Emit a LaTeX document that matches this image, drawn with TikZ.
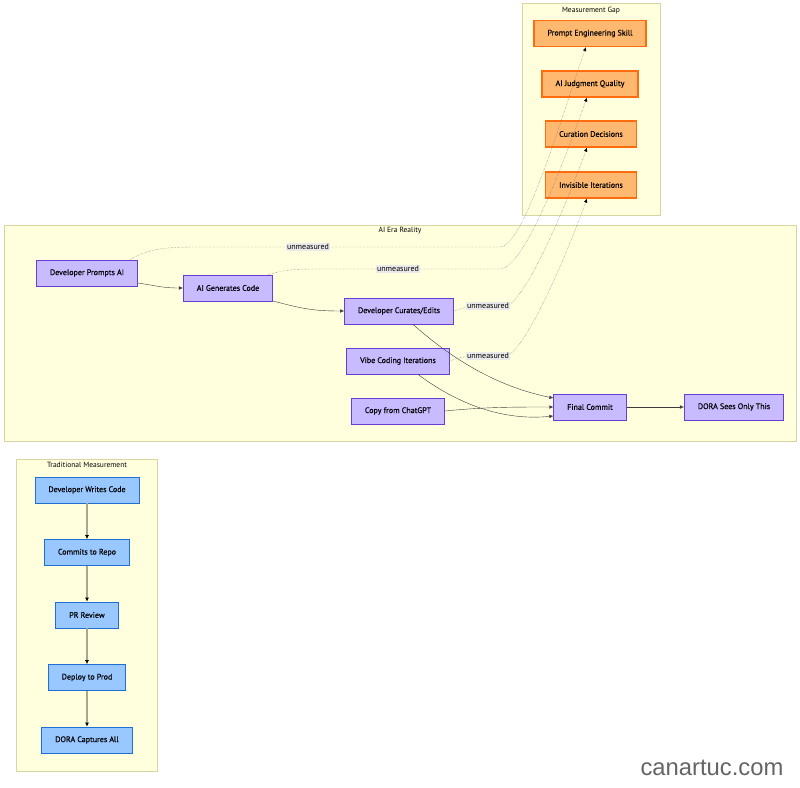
\documentclass[tikz,border=0pt]{standalone}
\usepackage{fontspec}
\setmainfont{PT Sans}
\newfontfamily\nodefont[FakeBold=0.25]{PT Sans}
\newfontfamily\markfont{Liberation Sans}
\usepackage{xcolor}
\usetikzlibrary{chains, positioning, arrows.meta}

\definecolor{clusterfill}{RGB}{255,255,222}
\definecolor{clusterdraw}{RGB}{214,214,160}
\definecolor{aifill}{RGB}{200,187,255}
\definecolor{aidraw}{RGB}{106,61,214}
\definecolor{gapfill}{RGB}{255,184,112}
\definecolor{gapdraw}{RGB}{255,108,16}
\definecolor{tradfill}{RGB}{153,199,255}
\definecolor{traddraw}{RGB}{31,111,214}
\definecolor{edgegray}{RGB}{60,60,60}
\definecolor{dotgray}{RGB}{100,100,100}
\definecolor{tradedge}{RGB}{170,166,148}
\definecolor{lblgray}{RGB}{234,234,234}
\definecolor{markgray}{RGB}{100,100,100}

\begin{document}
\begin{tikzpicture}[
  x = 1pt, y = -1pt,
  font = \nodefont\fontsize{8}{9.6}\selectfont,
  cluster/.style = {draw=clusterdraw, fill=clusterfill, line width=0.8pt},
  ctitle/.style = {font=\rmfamily\fontsize{7.5}{9}\selectfont},
  box/.style = {draw, rectangle, minimum height=26pt, inner xsep=13.5pt, line width=0.8pt},
  aibox/.style = {box, fill=aifill, draw=aidraw},
  gapbox/.style = {box, fill=gapfill, draw=gapdraw, line width=1.2pt},
  tradbox/.style = {box, fill=tradfill, draw=traddraw},
  flow/.style = {draw=edgegray, -{Latex[length=4pt, width=3.5pt]}},
  gapflow/.style = {draw=dotgray, densely dotted, -{Latex[length=4pt, width=3.5pt, color=black]}},
  tradflow/.style = {draw=tradedge, line width=1.5pt, -{Latex[length=4pt, width=4pt, color=black]}},
  lbl/.style = {fill=lblgray, inner sep=1pt, font=\rmfamily\fontsize{8}{9.6}\selectfont}
]
  \useasboundingbox (0,0) rectangle (800,787);

  % subgraphs
  \draw[cluster] (522,3) rectangle (660,215);
  \node[ctitle] (gaptitle) at (591,11) {Measurement Gap};
  \draw[cluster] (4,225) rectangle (796,441);
  \node[ctitle] (aititle) at (400,231) {AI Era Reality};
  \draw[cluster] (16,459) rectangle (157,771);
  \node[ctitle] (tradtitle) at (87,465) {Traditional Measurement};

  % measurement gap
  \node[gapbox] (pes) at (590,33.5) {Prompt Engineering Skill};
  \node[gapbox] (ajq) at (590,84) {AI Judgment Quality};
  \node[gapbox] (cd) at (591,134) {Curation Decisions};
  \node[gapbox] (ii) at (591,185) {Invisible Iterations};

  % AI era
  \node[aibox] (pai) at (87,273) {Developer Prompts AI};
  \node[aibox] (aig) at (228,288) {AI Generates Code};
  \node[aibox] (cur) at (399,311) {Developer Curates/Edits};
  \node[aibox] (vibe) at (398,361) {Vibe Coding Iterations};
  \node[aibox] (copy) at (398,411) {Copy from ChatGPT};
  \node[aibox] (fc) at (590,407) {Final Commit};
  \node[aibox] (dora) at (734,407) {DORA Sees Only This};

  \draw[flow] ([yshift=-10pt]pai.east) .. controls +(20,3) and +(-20,0) .. (aig.west);
  \draw[flow] ([yshift=-13pt]aig.east) .. controls +(30,8) and +(-30,0) .. (cur.west);
  \draw[flow] ([xshift=14pt]cur.south) .. controls +(45,40) and +(-50,-10) .. ([yshift=9pt]fc.west);
  \draw[flow] ([xshift=20pt]vibe.south) .. controls +(40,30) and +(-50,5) .. ([yshift=-9pt]fc.west);
  \draw[flow] (copy.east) .. controls +(40,-4) and +(-40,0) .. (fc.west);
  \draw[flow] (fc) -- (dora);

  % not measured
  \draw[gapflow] ([xshift=-8pt]pai.north east) .. controls +(20,-12) and +(-30,0) .. (200,247)
    -- node[lbl, pos=0.36] {unmeasured} (500,247)
    .. controls +(25,0) and +(-20,55) .. ([xshift=-4pt]pes.south);
  \draw[gapflow] ([xshift=-5pt]aig.north east) .. controls +(20,-6) and +(-30,0) .. (330,269)
    -- node[lbl, pos=0.4] {unmeasured} (500,269)
    .. controls +(25,0) and +(-20,55) .. ([xshift=-3pt]ajq.south);
  \draw[gapflow] (cur.east) .. controls +(8,-2) .. (470,306)
    -- node[lbl] {unmeasured} (506,306)
    .. controls +(20,-5) and +(-20,55) .. ([xshift=-4pt]cd.south);
  \draw[gapflow] (vibe.east) .. controls +(8,-3) .. (470,356)
    -- node[lbl] {unmeasured} (506,356)
    .. controls +(20,-5) and +(-20,55) .. ([xshift=-4pt]ii.south);

  % traditional
  \begin{scope}[start chain=trad going below, node distance=35.7pt]
    \node[tradbox, on chain] (dwc) at (87,490) {Developer Writes Code};
    \node[tradbox, on chain, join=by tradflow] (ctr) {Commits to Repo};
    \node[tradbox, on chain, join=by tradflow] (prr) {PR Review};
    \node[tradbox, on chain, join=by tradflow] (dtp) {Deploy to Prod};
    \node[tradbox, on chain, join=by tradflow] (dca) {DORA Captures All};
  \end{scope}

  \node[font=\markfont\fontsize{23.8}{28}\selectfont, text=markgray] (mark) at (712,768) {canartuc.com};
\end{tikzpicture}
\end{document}
